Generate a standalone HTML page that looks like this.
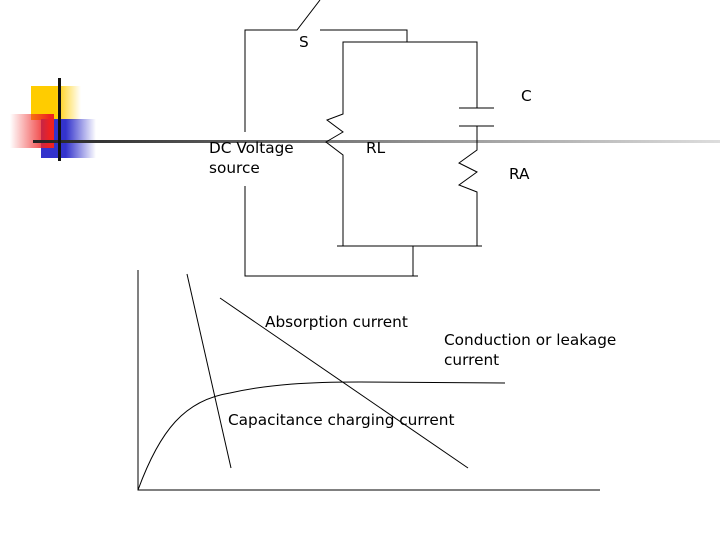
<!DOCTYPE html>
<html><head><meta charset="utf-8"><style>
body{margin:0;width:720px;height:540px;background:#fff;overflow:hidden;position:relative;font-family:"DejaVu Sans","Liberation Sans",sans-serif}
.t{position:absolute;font-size:15.3px;color:#000;line-height:20px;white-space:nowrap}
</style></head><body>
<svg width="720" height="540" style="position:absolute;left:0;top:0">
<defs>
<linearGradient id="gy" x1="0" x2="1"><stop offset="0.5" stop-color="#ffcc00"/><stop offset="1" stop-color="#ffcc00" stop-opacity="0"/></linearGradient>
<linearGradient id="gr" x1="1" x2="0"><stop offset="0.1" stop-color="#ee2222"/><stop offset="1" stop-color="#ee2222" stop-opacity="0"/></linearGradient>
<linearGradient id="gb" x1="0" x2="1"><stop offset="0.45" stop-color="#3333cc"/><stop offset="1" stop-color="#3333cc" stop-opacity="0"/></linearGradient>
<linearGradient id="gl" x1="0" x2="1"><stop offset="0" stop-color="#222"/><stop offset="0.6" stop-color="#999"/><stop offset="1" stop-color="#ddd"/></linearGradient>
</defs>
<rect x="31" y="86" width="50" height="34" fill="url(#gy)"/>
<rect x="41" y="119" width="55" height="39" fill="url(#gb)"/>
<rect x="10" y="114" width="44" height="34" fill="url(#gr)"/>
<rect x="33" y="140" width="687" height="3" fill="url(#gl)"/>
<rect x="58" y="78" width="3" height="83" fill="#111"/>
<g stroke="#000" stroke-width="1" fill="none">
<polyline points="245,132 245,30 297,30 320,0"/>
<polyline points="320,30 407,30 407,42"/>
<polyline points="245,186 245,276 418,276"/>
<line x1="413" y1="246" x2="413" y2="276"/>
<line x1="337" y1="246" x2="482" y2="246"/>
<polyline points="343,246 343,155 326,142 343,132 327,120 343,114 343,42 477,42 477,108"/>
<line x1="459" y1="108" x2="494" y2="108"/>
<line x1="459" y1="126" x2="494" y2="126"/>
<polyline points="477,126 477,150 459,163 477,172 459,185 477,192 477,246"/>
<polyline points="138,270 138,490 600,490"/>
<line x1="187" y1="274" x2="231" y2="468"/>
<line x1="220" y1="298" x2="468" y2="468"/>
<path d="M138,490 C160,430 185,400 230,393 C270,384 310,382 360,382 L505,383"/>
</g>
</svg>
<div class="t" style="left:299px;top:32px">S</div>
<div class="t" style="left:521px;top:86px">C</div>
<div class="t" style="left:366px;top:138px">RL</div>
<div class="t" style="left:509px;top:164px">RA</div>
<div class="t" style="left:209px;top:138px">DC Voltage<br>source</div>
<div class="t" style="left:265px;top:312px">Absorption current</div>
<div class="t" style="left:444px;top:330px">Conduction or leakage<br>current</div>
<div class="t" style="left:228px;top:410px">Capacitance charging current</div>
</body></html>
